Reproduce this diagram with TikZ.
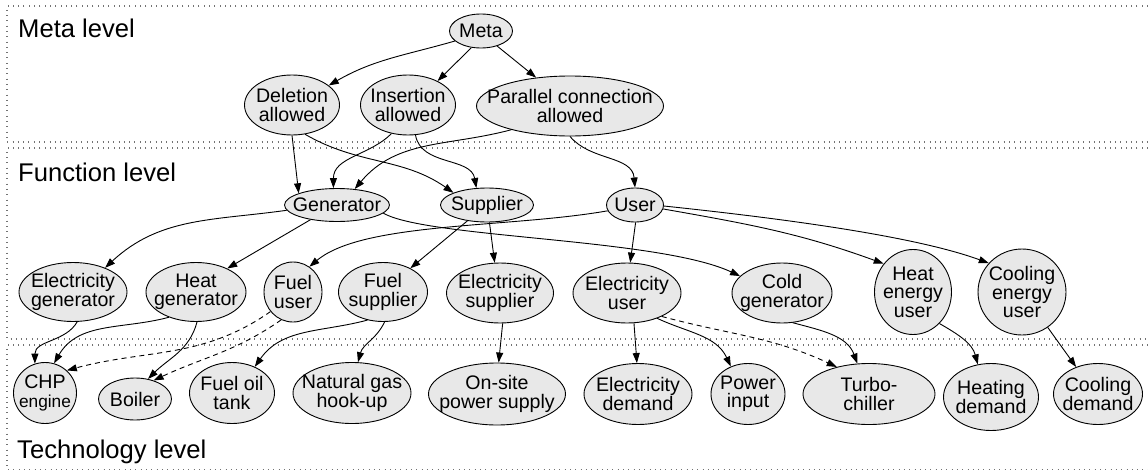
\documentclass[tikz,border=0pt]{standalone}
\usepackage{fontspec}
\setmainfont{Liberation Sans}
\usetikzlibrary{arrows.meta, shapes.geometric}

\begin{document}
\begin{tikzpicture}[
    x=1pt, y=1pt, >={Triangle[length=10pt, width=7pt]},
    conc/.style={ellipse, draw, line width=0.9pt, fill=gray!18,
                 inner xsep=-40pt, inner ysep=-10pt, align=center,
                 font=\fontsize{19.6}{18.5}\selectfont},
    lvl/.style={anchor=base west, inner sep=0pt,
                font=\fontsize{25.6}{30}\selectfont},
    frame/.style={draw=black!55, line width=1.3pt,
                  dash pattern=on 1pt off 4.3pt},
    link/.style={->, line width=0.9pt},
    alt/.style={link, dash pattern=on 5pt off 4pt}
  ]
  \useasboundingbox (0,0) rectangle (1148,-471);

  % level frames
  \draw[frame] (1148,-6) -| (7,-142) -- (1148,-142);
  \draw[frame] (1148,-148) -| (7,-339) -- (1148,-339);
  \draw[frame] (1148,-345) -| (7,-469.5) -- (1148,-469.5);

  \node[lvl] (metalbl) at (18,-37) {Meta level};
  \node[lvl] (funclbl) at (18,-181) {Function level};
  \node[lvl] (techlbl) at (17,-458) {Technology level};

  % meta level
  \node[conc, minimum width=63pt, minimum height=34pt] (meta) at (481,-31) {Meta};
  \node[conc, minimum width=95pt, minimum height=60pt] (del) at (292,-105) {Deletion\\allowed};
  \node[conc, minimum width=95pt, minimum height=60pt] (ins) at (408,-105) {Insertion\\allowed};
  \node[conc, minimum width=187pt, minimum height=60pt] (par) at (570,-106) {Parallel connection\\allowed};

  % function level
  \node[conc, minimum width=105pt, minimum height=33pt] (gen) at (337,-205) {Generator};
  \node[conc, minimum width=93pt, minimum height=34pt] (sup) at (487,-205) {Supplier};
  \node[conc, minimum width=57pt, minimum height=34pt] (user) at (635,-205) {User};

  \node[conc, minimum width=108pt, minimum height=59pt] (elgen) at (73,-292) {Electricity\\generator};
  \node[conc, minimum width=100pt, minimum height=59pt] (heatgen) at (196,-292) {Heat\\generator};
  \node[conc, minimum width=58pt, minimum height=60pt] (fuser) at (293,-292) {Fuel\\user};
  \node[conc, minimum width=89pt, minimum height=59pt] (fsup) at (383,-292) {Fuel\\supplier};
  \node[conc, minimum width=107pt, minimum height=60pt] (elsup) at (500,-293) {Electricity\\supplier};
  \node[conc, minimum width=108pt, minimum height=60pt] (eluser) at (627,-293) {Electricity\\user};
  \node[conc, minimum width=100pt, minimum height=60pt] (coldgen) at (782,-293) {Cold\\generator};
  \node[conc, minimum width=77pt, minimum height=85pt] (heatuser) at (913,-292) {Heat\\energy\\user};
  \node[conc, minimum width=88pt, minimum height=86pt] (cooluser) at (1022,-292) {Cooling\\energy\\user};

  % technology level
  \node[conc, minimum width=63pt, minimum height=61pt] (chp) at (45,-393) {CHP\\{\fontsize{17.3}{18}\selectfont engine}};
  \node[conc, minimum width=73pt, minimum height=42pt] (boiler) at (135,-399) {Boiler};
  \node[conc, minimum width=85pt, minimum height=61pt] (oiltank) at (232,-393) {Fuel oil\\tank};
  \node[conc, minimum width=118pt, minimum height=61pt] (gas) at (352,-393) {Natural gas\\hook-up};
  \node[conc, minimum width=137pt, minimum height=62pt] (onsite) at (497,-394) {On-site\\power supply};
  \node[conc, minimum width=108pt, minimum height=61pt] (eldem) at (638,-394) {Electricity\\demand};
  \node[conc, minimum width=74pt, minimum height=61pt] (power) at (748,-394) {Power\\input};
  \node[conc, minimum width=132pt, minimum height=61pt] (turbo) at (869,-394) {Turbo-\\chiller};
  \node[conc, minimum width=95pt, minimum height=67pt] (heatdem) at (991,-397) {Heating\\demand};
  \node[conc, minimum width=89pt, minimum height=61pt] (cooldem) at (1098,-394) {Cooling\\demand};

  % meta -> function
  \draw[link] (meta.201) to[out=196, in=30] (del.28);
  \draw[link] (meta.240) -- (ins.39);
  \draw[link] (meta.317) -- (par.140);
  \draw[link] (del.270) -- (gen.163);
  \draw[link] (del.294) to[out=-30, in=145] (sup.160);
  \draw[link] (ins.240) to[out=225, in=90] (gen.102);
  \draw[link] (ins.284) to[out=-80, in=100] (sup.122);
  \draw[link] (par.202) to[out=195, in=50] (gen.42);
  \draw[link] (par.270) to[out=-50, in=95] (user.north);

  % function level
  \draw[link] (gen.186) to[out=188, in=43] (elgen.37);
  \draw[link] (gen.209) -- (heatgen.37);
  \draw[link] (gen.350) .. controls +(-30:50) and +(155:90) .. (coldgen.158);
  \draw[link] (sup.219) -- (fsup.41);
  \draw[link] (sup.278) -- (elsup.100);
  \draw[link] (user.192) .. controls +(190:100) and +(40:70) .. (fuser.57);
  \draw[link] (user.272) -- (eluser.84);
  \draw[link] (user.352) to[out=-10, in=160] (heatuser.136);
  \draw[link] (user.358) .. controls +(-6:150) and +(160:70) .. (cooluser.139);

  % function -> technology
  \draw[link] (elgen.278) to[out=240, in=90] (chp.109);
  \draw[link] (heatgen.223) to[out=195, in=60] (chp.73);
  \draw[link] (heatgen.272) to[out=255, in=45] (boiler.57);
  \draw[alt] (fuser.221) to[out=215, in=15] (chp.46);
  \draw[alt] (fuser.247) to[out=215, in=25] (boiler.45);
  \draw[link] (fsup.241) to[out=195, in=55] (oiltank.49);
  \draw[link] (fsup.273) to[out=245, in=75] (gas.79);
  \draw[link] (elsup.275) -- (onsite.87);
  \draw[link] (eluser.283) -- (eldem.92);
  \draw[link] (eluser.320) to[out=-25, in=115] (power.122);
  \draw[alt] (eluser.326) to[out=-15, in=155] (turbo.140);
  \draw[link] (coldgen.290) to[out=-15, in=110] (turbo.111);
  \draw[link] (heatuser.310) to[out=-30, in=105] (heatdem.112);
  \draw[link] (cooluser.306) -- (cooldem.129);
\end{tikzpicture}
\end{document}
